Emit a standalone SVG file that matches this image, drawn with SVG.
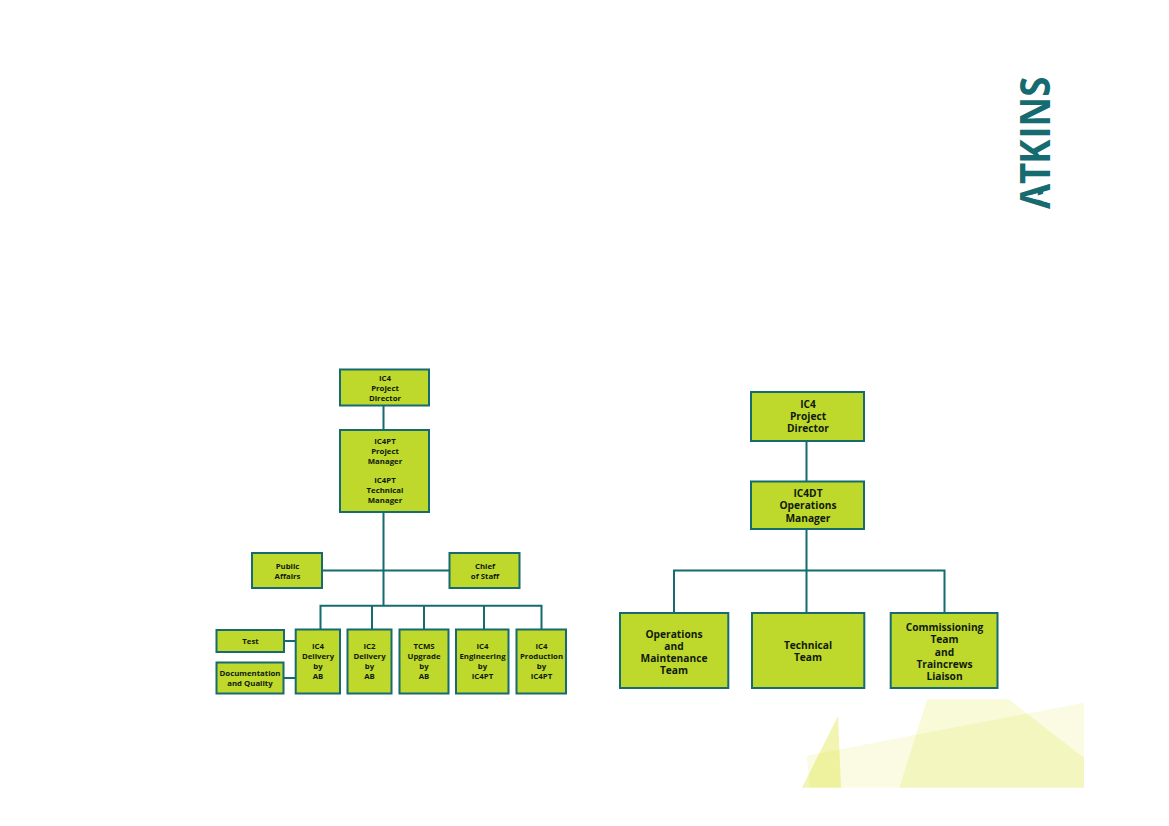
<svg xmlns="http://www.w3.org/2000/svg" width="1169" height="826" viewBox="0 0 1169 826">
<style>
.b{fill:#bed82b;stroke:#156b6f;stroke-width:2}
.c{fill:none;stroke:#156b6f;stroke-width:2}
.t{font-family:"Open Sans","Noto Sans",sans-serif;font-weight:700;fill:#0f1a0c;text-anchor:middle}
.s{font-size:7.8px}
.l{font-size:10.2px}
.bg{fill:#dce63c}
</style>
<rect width="1169" height="826" fill="#fff"/>
<g id="background">
<polygon class="bg" opacity=".15" points="806.7,755.7 1084,702.7 1084,787.7 810,787.7"/>
<polygon class="bg" opacity=".2" points="927.3,699.3 1008.3,699.3 1084,757.7 1084,787.7 899.3,787.7"/>
<polygon class="bg" opacity=".4" points="802,787.7 838,716 841,787.7"/>
</g>
<g id="logo">
<text transform="translate(1050,209) rotate(-90) scale(.9,1)" font-family="'Open Sans',sans-serif" font-size="40.5" font-weight="700" fill="#156b6f" x="0 27.8 50.4 78.2 91.6 124.7">ATKINS</text>
<polygon points="1051,191.500 1051,203.500 1031,197.500" fill="#fff"/>
</g>
<g id="connectors">
<path class="c" d="M383.5 405.7V430M383.5 512V605.7M322.3 570.5H449.3M320.5 629.3V605.7H541.5V629.3M372 605.7V629.3M424 605.7V629.3M484 605.7V629.3M284 641H295.7M284 678H295.7"/>
<path class="c" d="M806.5 441V481.3M806.5 529V613M674 613V570.5H944.5V613"/>
</g>
<g id="n1"><rect class="b" x="340" y="369.500" width="89" height="36"/><text class="t s"><tspan x="385" y="381">IC4</tspan><tspan x="385" y="391">Project</tspan><tspan x="385" y="401">Director</tspan></text></g>
<g id="n2"><rect class="b" x="340" y="430" width="89" height="82"/><text class="t s"><tspan x="385" y="444">IC4PT</tspan><tspan x="385" y="454">Project</tspan><tspan x="385" y="464">Manager</tspan><tspan x="385" y="483">IC4PT</tspan><tspan x="385" y="493">Technical</tspan><tspan x="385" y="503">Manager</tspan></text></g>
<g id="n3"><rect class="b" x="252" y="553" width="70" height="35"/><text class="t s"><tspan x="287.500" y="569">Public</tspan><tspan x="287.500" y="579">Affairs</tspan></text></g>
<g id="n4"><rect class="b" x="449.500" y="553" width="70" height="35"/><text class="t s"><tspan x="485" y="569">Chief</tspan><tspan x="485" y="579">of Staff</tspan></text></g>
<g id="n5"><rect class="b" x="216.500" y="630" width="67.500" height="22"/><text class="t s"><tspan x="250.500" y="644">Test</tspan></text></g>
<g id="n6"><rect class="b" x="216.500" y="662.500" width="67" height="31"/><text class="t s"><tspan x="250" y="676">Documentation</tspan><tspan x="250" y="686">and Quality</tspan></text></g>
<g id="n7"><rect class="b" x="295.700" y="629.500" width="44.300" height="64"/><text class="t s"><tspan x="318" y="649">IC4</tspan><tspan x="318" y="659">Delivery</tspan><tspan x="318" y="669">by</tspan><tspan x="318" y="679">AB</tspan></text></g>
<g id="n8"><rect class="b" x="347.500" y="629.500" width="44" height="64"/><text class="t s"><tspan x="369.500" y="649">IC2</tspan><tspan x="369.500" y="659">Delivery</tspan><tspan x="369.500" y="669">by</tspan><tspan x="369.500" y="679">AB</tspan></text></g>
<g id="n9"><rect class="b" x="399.500" y="629.500" width="49" height="64"/><text class="t s"><tspan x="424" y="649">TCMS</tspan><tspan x="424" y="659">Upgrade</tspan><tspan x="424" y="669">by</tspan><tspan x="424" y="679">AB</tspan></text></g>
<g id="n10"><rect class="b" x="456" y="629.500" width="52.500" height="64"/><text class="t s"><tspan x="482.500" y="649">IC4</tspan><tspan x="482.500" y="659">Engineering</tspan><tspan x="482.500" y="669">by</tspan><tspan x="482.500" y="679">IC4PT</tspan></text></g>
<g id="n11"><rect class="b" x="516.500" y="629.500" width="49.500" height="64"/><text class="t s"><tspan x="541.500" y="649">IC4</tspan><tspan x="541.500" y="659">Production</tspan><tspan x="541.500" y="669">by</tspan><tspan x="541.500" y="679">IC4PT</tspan></text></g>
<g id="m1"><rect class="b" x="751" y="392" width="113" height="49"/><text class="t l"><tspan x="808" y="407.500">IC4</tspan><tspan x="808" y="419.500">Project</tspan><tspan x="808" y="431.500">Director</tspan></text></g>
<g id="m2"><rect class="b" x="751" y="481.500" width="113" height="47.500"/><text class="t l"><tspan x="808" y="497">IC4DT</tspan><tspan x="808" y="509">Operations</tspan><tspan x="808" y="521.500">Manager</tspan></text></g>
<g id="m3"><rect class="b" x="620" y="613" width="108.300" height="75"/><text class="t l"><tspan x="674" y="637.500">Operations</tspan><tspan x="674" y="650">and</tspan><tspan x="674" y="662">Maintenance</tspan><tspan x="674" y="674">Team</tspan></text></g>
<g id="m4"><rect class="b" x="752" y="613" width="112.300" height="75"/><text class="t l"><tspan x="808" y="649">Technical</tspan><tspan x="808" y="661">Team</tspan></text></g>
<g id="m5"><rect class="b" x="890.700" y="613" width="106.800" height="75"/><text class="t l"><tspan x="944.500" y="631">Commissioning</tspan><tspan x="944.500" y="643">Team</tspan><tspan x="944.500" y="655.500">and</tspan><tspan x="944.500" y="667.500">Traincrews</tspan><tspan x="944.500" y="679.500">Liaison</tspan></text></g>
</svg>
